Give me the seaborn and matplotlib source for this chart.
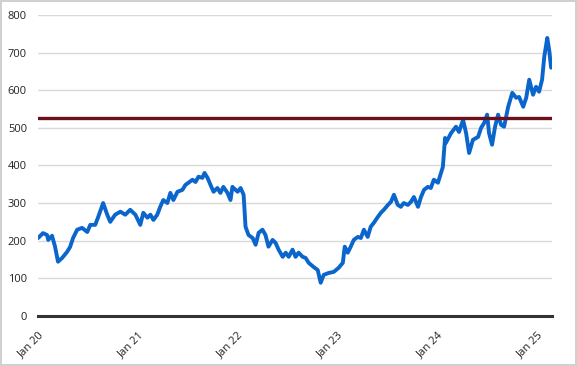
import pandas as pd
import matplotlib.pyplot as plt
import seaborn as sns

# Price series (approximate)
dates = [
    "2020-01-01", "2020-01-19", "2020-02-03", "2020-02-07", "2020-02-21", "2020-03-03",
    "2020-03-14", "2020-03-29", "2020-04-16", "2020-04-27", "2020-05-08", "2020-05-23",
    "2020-06-10", "2020-06-29", "2020-07-10", "2020-07-28", "2020-08-08", "2020-08-26",
    "2020-09-10", "2020-09-21", "2020-10-09", "2020-10-28", "2020-11-15", "2020-12-03",
    "2020-12-22",
    "2021-01-09", "2021-01-20", "2021-02-04", "2021-02-15", "2021-02-26", "2021-03-12",
    "2021-03-23", "2021-04-03", "2021-04-18", "2021-04-29", "2021-05-10", "2021-05-25",
    "2021-06-12", "2021-06-23", "2021-07-04", "2021-07-19", "2021-07-30", "2021-08-10",
    "2021-08-24", "2021-09-01", "2021-09-12", "2021-09-23", "2021-10-04", "2021-10-18",
    "2021-10-29", "2021-11-09", "2021-11-24", "2021-12-05", "2021-12-12", "2021-12-31",
    "2022-01-11", "2022-01-22", "2022-01-29", "2022-02-09", "2022-02-24", "2022-03-07",
    "2022-03-18", "2022-04-01", "2022-04-12", "2022-04-23", "2022-05-08", "2022-05-19",
    "2022-05-30", "2022-06-14", "2022-06-25", "2022-07-06", "2022-07-20", "2022-07-31",
    "2022-08-11", "2022-08-26", "2022-09-06", "2022-09-17", "2022-10-05", "2022-10-20",
    "2022-10-31", "2022-11-11", "2022-11-29", "2022-12-18",
    "2023-01-05", "2023-01-20", "2023-01-27", "2023-02-07", "2023-02-18", "2023-03-01",
    "2023-03-16", "2023-03-27", "2023-04-07", "2023-04-21", "2023-05-02", "2023-05-13",
    "2023-05-28", "2023-06-08", "2023-06-19", "2023-07-04", "2023-07-15", "2023-07-26",
    "2023-08-09", "2023-08-20", "2023-08-31", "2023-09-15", "2023-09-26", "2023-10-07",
    "2023-10-22", "2023-11-02", "2023-11-13", "2023-11-27", "2023-12-08", "2023-12-19",
    "2024-01-03", "2024-01-14", "2024-01-21", "2024-01-29", "2024-02-01", "2024-02-20",
    "2024-03-09", "2024-03-20", "2024-04-04", "2024-04-15", "2024-04-26", "2024-05-10",
    "2024-05-29", "2024-06-09", "2024-06-20", "2024-07-01", "2024-07-08", "2024-07-19",
    "2024-07-30", "2024-08-10", "2024-08-21", "2024-09-01", "2024-09-16", "2024-10-01",
    "2024-10-15", "2024-10-26", "2024-11-10", "2024-11-21", "2024-12-02", "2024-12-16",
    "2024-12-27",
    "2025-01-07", "2025-01-18", "2025-01-26", "2025-02-06", "2025-02-13", "2025-02-20",
]
prices = [
    207, 220, 215, 202, 213, 184,
    144, 154, 170, 183, 207, 229,
    234, 223, 242, 242, 263, 300,
    269, 250, 269, 277, 269, 282,
    269,
    242, 274, 261, 269, 255, 269,
    290, 308, 300, 327, 308, 330,
    335, 348, 354, 362, 356, 370,
    367, 380, 367, 348, 330, 340,
    327, 343, 327, 308, 343, 330,
    340, 322, 237, 215, 207, 189,
    221, 229, 215, 184, 202, 194,
    176, 157, 168, 157, 176, 157,
    168, 157, 154, 141, 130, 122,
    88, 109, 114, 117,
    128, 141, 184, 168, 184, 202,
    210, 207, 229, 210, 237, 247,
    263, 274, 282, 295, 303, 322,
    295, 290, 300, 295, 303, 316,
    290, 316, 335, 343, 340, 362,
    354, 380, 396, 473, 460, 486,
    503, 489, 521, 486, 433, 468,
    476, 500, 513, 535, 486, 455,
    503, 535, 508, 503, 556, 593,
    580, 582, 556, 580, 628, 588,
    609,
    596, 628, 689, 739, 707, 660,
]
threshold = 525
y_ticks = [0, 100, 200, 300, 400, 500, 600, 700, 800]
x_tick_dates = ["2020-01-01", "2021-01-01", "2022-01-01",
                "2023-01-01", "2024-01-01", "2025-01-01"]
x_tick_labels = ["Jan 20", "Jan 21", "Jan 22", "Jan 23", "Jan 24", "Jan 25"]

df = pd.DataFrame({"date": pd.to_datetime(dates), "price": prices})

sns.set_style("white")
plt.rcParams["font.family"] = ["Open Sans", "DejaVu Sans"]

fig = plt.figure(figsize=(5.77, 3.66), dpi=100)
fig.patch.set_edgecolor("#d0d0d0")
fig.patch.set_linewidth(1.5)
ax = fig.add_axes([0.066, 0.137, 0.891, 0.822])

sns.lineplot(data=df, x="date", y="price", ax=ax, color="#0a66cc", linewidth=2.8)
ax.axhline(threshold, color="#6b0f1a", linewidth=2.4, zorder=5)

ax.set_ylim(0, 800)
ax.set_yticks(y_ticks)
ax.set_xlim(pd.Timestamp("2020-01-01"), pd.Timestamp("2025-02-24"))
ax.set_xticks(pd.to_datetime(x_tick_dates))
ax.set_xticklabels(x_tick_labels, rotation=45, ha="right", rotation_mode="anchor")

ax.grid(axis="y", color="#d9d9d9", linewidth=1)
ax.set_axisbelow(True)
for s in ["left", "right", "top"]:
    ax.spines[s].set_visible(False)
ax.spines["bottom"].set_color("#333333")
ax.spines["bottom"].set_linewidth(2.2)
ax.tick_params(axis="y", length=0, pad=8, labelsize=8, labelcolor="#222222")
ax.tick_params(axis="x", length=3, color="#d9d9d9", pad=7, labelsize=8, labelcolor="#222222")
ax.set_xlabel("")
ax.set_ylabel("")

fig.savefig("out.png", dpi=100, edgecolor=fig.get_edgecolor())
